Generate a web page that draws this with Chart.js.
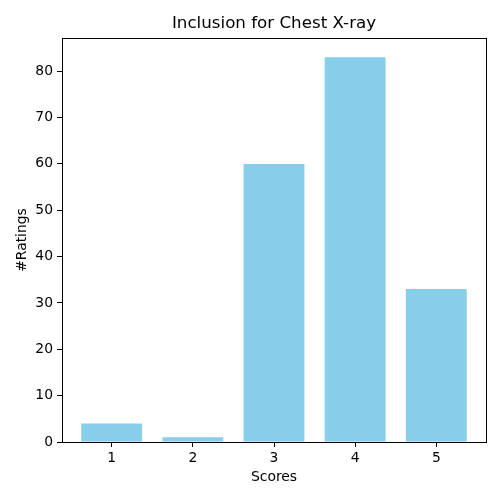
<!DOCTYPE html>
<html>
<head>
<meta charset="utf-8">
<script src="https://cdn.jsdelivr.net/npm/chart.js@4/dist/chart.umd.min.js"></script>
<style>
html,body{margin:0;padding:0;background:#fff;}
#wrap{width:500px;height:500px;}
</style>
</head>
<body>
<div id="wrap"><canvas id="c" width="500" height="500"></canvas></div>
<script>
const scores = [1, 2, 3, 4, 5];
const ratings = [4, 1, 60, 83, 33];
const yTicks = [0, 10, 20, 30, 40, 50, 60, 70, 80];
const chartTitle = 'Inclusion for Chest X-ray';
const xLabel = 'Scores';
const yLabel = '#Ratings';

const FONT = 'DejaVu Sans';

const frame = {
  id: 'frame',
  afterDatasetsDraw(chart) {
    const {ctx, chartArea: a} = chart;
    ctx.save();
    ctx.strokeStyle = '#000';
    ctx.lineWidth = 1;
    ctx.strokeRect(Math.round(a.left) + 0.5, Math.round(a.top) + 0.5,
      Math.round(a.right - a.left), Math.round(a.bottom - a.top));
    ctx.restore();
  }
};

new Chart(document.getElementById('c'), {
  type: 'bar',
  data: {
    datasets: [{
      data: scores.map((s, i) => ({x: s, y: ratings[i]})),
      backgroundColor: '#87ceeb',
      borderWidth: 0,
      barPercentage: 0.75,
      categoryPercentage: 1
    }]
  },
  options: {
    responsive: false,
    animation: false,
    devicePixelRatio: 1,
    layout: {padding: {left: 0, right: 14, top: 0, bottom: 0}},
    plugins: {
      legend: {display: false},
      tooltip: {enabled: false},
      title: {
        display: true,
        fullSize: false,
        text: chartTitle,
        color: '#000',
        font: {family: FONT, size: 16.7, weight: 'normal'},
        padding: {top: 14, bottom: 4}
      }
    },
    scales: {
      x: {
        type: 'linear',
        min: 0.3875,
        max: 5.6125,
        offset: false,
        afterBuildTicks: (s) => { s.ticks = scores.map(v => ({value: v})); },
        afterFit: (s) => { s.height = 58; },
        grid: {offset: false, drawOnChartArea: false, drawTicks: true, tickLength: 5, color: '#000'},
        border: {display: true, color: '#000'},
        ticks: {color: '#000', font: {family: FONT, size: 13.9}, padding: 3, maxRotation: 0},
        title: {display: true, text: xLabel, color: '#000', font: {family: FONT, size: 13.9}, padding: {top: 0, bottom: 14.5}}
      },
      y: {
        min: 0,
        max: 87.15,
        afterBuildTicks: (s) => { s.ticks = yTicks.map(v => ({value: v})); },
        afterFit: (s) => { s.width = 62; },
        grid: {drawOnChartArea: false, drawTicks: true, tickLength: 5, color: '#000'},
        border: {display: true, color: '#000'},
        ticks: {color: '#000', font: {family: FONT, size: 13.9}, padding: 4},
        title: {display: true, text: yLabel, color: '#000', font: {family: FONT, size: 13.9}, padding: {top: 14, bottom: 0}}
      }
    }
  },
  plugins: [frame]
});
</script>
</body>
</html>
